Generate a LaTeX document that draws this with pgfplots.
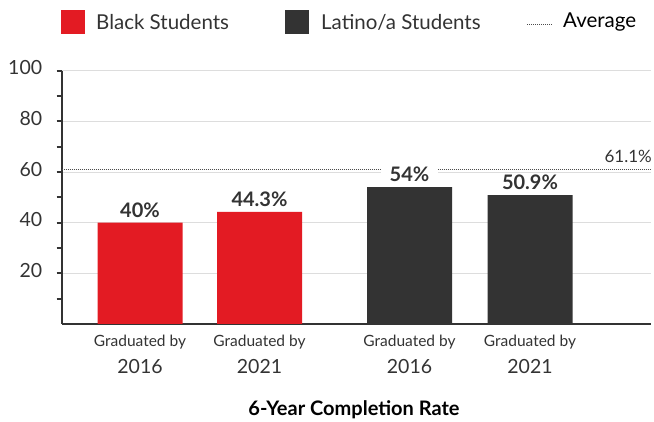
\documentclass[border=0pt]{standalone}
\usepackage{pgfplots}
\pgfplotsset{compat=1.18}
\usepackage{fontspec}
\setmainfont{Lato}
\definecolor{cred}{HTML}{E31B23}
\definecolor{cdark}{HTML}{333333}
\definecolor{cgrid}{HTML}{DDDDDD}
\begin{document}
\begin{tikzpicture}[x=1pt,y=1pt]
\useasboundingbox (0,0) rectangle (654,-422);
\begin{axis}[
  at={(61.7pt,-324pt)}, anchor=south west,
  scale only axis, width=589.3pt, height=253.3pt,
  xmin=61.7, xmax=651, ymin=0, ymax=100,
  axis lines*=left,
  axis line style={cdark, line width=2pt},
  ytick={20,40,60,80,100},
  minor ytick={10,30,50,70,90},
  tick align=outside,
  major tick length=5pt, minor tick length=5pt,
  every tick/.style={cdark, line width=1.8pt},
  ymajorgrids,
  grid style={cgrid, line width=1pt},
  /pgf/number format/assume math mode=true,
  yticklabel style={font=\fontsize{19.5}{19.5}\selectfont, text=cdark, xshift=-11pt, yshift=3pt},
  xtick={140,259.5,409.5,530},
  xtick style={draw=none},
  xticklabels={{Graduated by\\{\fontsize{19.5}{19.5}\selectfont 2016}},
               {Graduated by\\{\fontsize{19.5}{19.5}\selectfont 2021}},
               {Graduated by\\{\fontsize{19.5}{19.5}\selectfont 2016}},
               {Graduated by\\{\fontsize{19.5}{19.5}\selectfont 2021}}},
  xticklabel style={align=center, font=\fontsize{15.5}{27}\selectfont, text=cdark, yshift=-3pt},
  clip=false,
]
\addplot[color=black!70, line width=1pt, dash pattern=on 1pt off 1pt] coordinates {(61.7,61.1) (651,61.1)};
\node[anchor=south east, font=\fontsize{17}{17}\selectfont, text=cdark, inner sep=0pt] at (axis cs:652,63.5) {61.1\%};
\addplot[ybar, bar shift=0pt, bar width=85, fill=cred, draw=none,
  nodes near coords={\pgfmathprintnumber{\pgfplotspointmeta}\%},
  every node near coord/.append style={font=\bfseries\fontsize{20}{20}\selectfont, text=cdark, fill=white, inner xsep=9pt, inner ysep=2pt, yshift=3pt}]
  coordinates {(140,40) (259.5,44.3)};
\addplot[ybar, bar shift=0pt, bar width=85, fill=cdark, draw=none,
  nodes near coords={\pgfmathprintnumber{\pgfplotspointmeta}\%},
  every node near coord/.append style={font=\bfseries\fontsize{20}{20}\selectfont, text=cdark, fill=white, inner xsep=9pt, inner ysep=2pt, yshift=3pt}]
  coordinates {(409.5,54) (530,50.9)};
\end{axis}
% legend
\fill[cred] (61,-10) rectangle (85,-34);
\node[anchor=west, font=\fontsize{20.5}{20.5}\selectfont, text=cdark, inner sep=0pt] at (96,-22) {Black Students};
\fill[cdark] (285,-10) rectangle (309,-34);
\node[anchor=west, font=\fontsize{20.5}{20.5}\selectfont, text=cdark, inner sep=0pt] at (321,-22) {Latino/a Students};
\draw[black!70, line width=1pt, dash pattern=on 1pt off 1pt] (527,-25) -- (552,-25);
\node[anchor=west, font=\fontsize{20.5}{20.5}\selectfont, text=black, inner sep=0pt] at (563,-22) {Average};
% title
\node[font=\bfseries\fontsize{20}{20}\selectfont, text=black] at (354,-410) {6-Year Completion Rate};
\end{tikzpicture}
\end{document}
